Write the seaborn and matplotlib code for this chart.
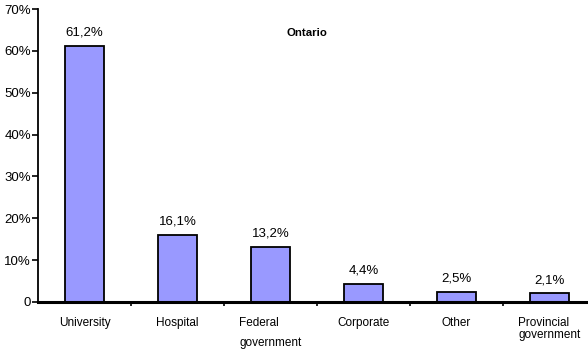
import matplotlib
matplotlib.use("Agg")
import matplotlib.pyplot as plt
import seaborn as sns
import numpy as np

categories = ["University", "Hospital", "Federal\ngovernment", "Corporate", "Other",
              "Provincial\ngovernment"]
shares = [61.2, 16.1, 13.2, 4.4, 2.5, 2.1]
value_labels = ["61,2%", "16,1%", "13,2%", "4,4%", "2,5%", "2,1%"]
y_ticks = [0, 10, 20, 30, 40, 50, 60, 70]
y_tick_labels = ["0", "10%", "20%", "30%", "40%", "50%", "60%", "70%"]
title = "Ontario"

sns.set_style("white")
plt.rcParams["font.family"] = ["Liberation Sans", "DejaVu Sans"]
plt.rcParams["text.color"] = "black"
plt.rcParams["xtick.color"] = "black"
plt.rcParams["ytick.color"] = "black"
plt.rcParams["axes.labelcolor"] = "black"

fig = plt.figure(figsize=(5.88, 3.49), dpi=100)
ax = fig.add_axes([38 / 588, 1 - 302 / 349, 558 / 588, 293 / 349])

sns.barplot(x=categories, y=shares, color="#9999ff", saturation=1,
            edgecolor="black", linewidth=1.3, width=0.43, ax=ax)

ax.set_ylim(0, 70)
ax.set_xlim(-0.5, len(categories) - 0.5)
ax.set_yticks(y_ticks)
ax.set_yticklabels(y_tick_labels, fontsize=9.5)
ax.tick_params(axis="y", direction="out", length=4, width=1.2, pad=1, left=True)

# category labels at bar centres, tick marks between categories
ax.set_xticks(range(len(categories)))
ax.set_xticklabels(categories, fontsize=8.5)
ax.tick_params(axis="x", which="major", length=0, pad=11)
ax.set_xticks(np.arange(0.5, len(categories) - 0.5, 1.0), minor=True)
ax.tick_params(axis="x", which="minor", direction="out", length=3, width=1.2, bottom=True)
for lab in ax.get_xticklabels():
    lab.set_multialignment("left")
    lab.set_linespacing(0.95)
    if lab.get_text().startswith("Federal"):
        lab.set_linespacing(1.9)

for i, (v, t) in enumerate(zip(shares, value_labels)):
    ax.annotate(t, xy=(i, v), xytext=(0, 5), textcoords="offset points",
                ha="center", va="bottom", fontsize=9.5)

ax.text((307 - 38) / 558, (302 - 33) / 293, title,
        transform=ax.transAxes, ha="center", va="center",
        fontsize=8.2, fontweight="bold")

sns.despine(ax=ax, top=True, right=True)
ax.spines["left"].set_linewidth(1.3)
ax.spines["left"].set_color("black")
ax.spines["bottom"].set_linewidth(2.2)
ax.spines["bottom"].set_color("black")
ax.set_xlabel("")
ax.set_ylabel("")

fig.savefig("out.png", dpi=100)
